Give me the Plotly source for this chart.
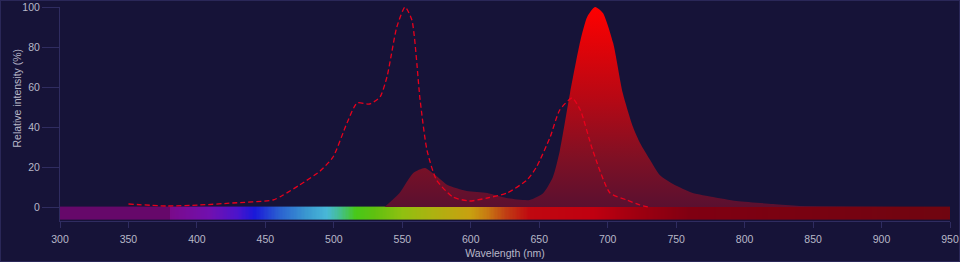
import numpy as np
import plotly.graph_objects as go

# Emission spectrum (filled)
em_nm = [537, 548, 558, 566.5, 574, 583, 597, 612, 626, 643, 653, 660, 665, 672.5, 680, 685,
         690.7, 696.5, 704, 711, 718.5, 723.6, 731, 738, 747.7, 762, 777, 794, 820.7, 840, 950]
em_val = [0, 7, 17, 19.5, 16, 11, 8, 7, 4.5, 3.5, 7, 15, 28, 57, 83, 95,
          100, 97, 82, 57, 40, 32, 23.5, 16, 11.5, 7, 5, 3, 1.5, 0.5, 0]

# Excitation spectrum (dashed)
ex_nm = [350, 378, 402, 426, 455.6, 463, 475, 490, 499.4, 509.6, 517, 526, 533.7, 538.8, 546,
         552, 557, 563, 568, 575, 587, 599, 612, 626.5, 641, 648, 658, 665, 674, 680, 689,
         701.7, 714, 723.6, 730]
ex_val = [1.5, 0.5, 1, 2, 3.5, 6, 11, 18, 25, 42, 52, 51.5, 55, 65, 90,
          100, 93.5, 53.5, 28.5, 13.5, 5, 3, 4.5, 7, 13.5, 20, 35, 48.5, 54.5, 48.5, 28.5,
          7, 3.5, 1, 0]

# Visible spectrum colour bar
spec_nm = [300, 379.5, 380, 410, 430, 442, 460, 480, 495, 506, 516, 530, 550, 575, 600, 612,
           625, 643, 690, 720, 760, 950]
spec_col = ["#66086a", "#66086a", "#7a0a8a", "#7010b0", "#4a14cc", "#1a18d8", "#2a60d0",
            "#3a98d0", "#48b8d8", "#44c080", "#48c818", "#60c010", "#90c010", "#b0b010",
            "#c8a010", "#c87a12", "#c04014", "#c00810", "#c00010", "#a00010", "#800012", "#700510"]

x_ticks = [300, 350, 400, 450, 500, 550, 600, 650, 700, 750, 800, 850, 900, 950]
y_ticks = [0, 20, 40, 60, 80, 100]

BG = "#161338"
AX = "#2f2c60"
TXT = "#b8b8c8"
FONT = "Liberation Sans, Arial, sans-serif"

fig = go.Figure()

fig.add_trace(go.Scatter(
    x=em_nm, y=em_val, mode="lines", line=dict(width=0, shape="spline", smoothing=0.6),
    fill="tozeroy",
    fillgradient=dict(type="vertical",
                      colorscale=[[0, "#5a1030"], [0.25, "#801024"], [0.55, "#b80814"], [1, "#ff0000"]]),
    hoverinfo="skip", showlegend=False))

lo, hi = spec_nm[0], spec_nm[-1]
cscale = [[(n - lo) / (hi - lo), c] for n, c in zip(spec_nm, spec_col)]
edges = np.arange(300, 951, 1)
mids = (edges[:-1] + edges[1:]) / 2
fig.add_trace(go.Heatmap(
    x=edges, y=[-6.1, 0.2], z=[mids], zmin=lo, zmax=hi, colorscale=cscale,
    showscale=False, hoverinfo="skip"))

fig.add_trace(go.Scatter(
    x=ex_nm, y=ex_val, mode="lines",
    line=dict(color="#e8001c", width=1.3, dash="5px,3px", shape="spline", smoothing=0.6),
    hoverinfo="skip", showlegend=False))

fig.update_layout(
    width=960, height=262,
    margin=dict(l=60, r=10, t=7, b=41),
    paper_bgcolor=BG, plot_bgcolor=BG,
    font=dict(family=FONT, size=10.5, color=TXT),
    showlegend=False,
    xaxis=dict(range=[300, 950], tickvals=x_ticks, showgrid=False, zeroline=False,
               showline=True, linecolor=AX, linewidth=1, ticks="outside", ticklen=6,
               tickcolor=AX, ticklabelstandoff=2, automargin=False,
               title=dict(text="Wavelength (nm)", font=dict(size=10.5, color=TXT), standoff=6)),
    yaxis=dict(range=[-7, 100], tickvals=y_ticks, showgrid=False, zeroline=False,
               showline=True, linecolor=AX, linewidth=1, ticks="outside", ticklen=17,
               tickcolor=AX, automargin=False),
    annotations=[dict(text="Relative intensity (%)", textangle=-90, x=8, xref="paper",
                      y=150, yref="paper", showarrow=False, font=dict(size=10.5, color=TXT))],
)

# convert annotation pixel positions to paper coords
pw, ph = 960 - 60 - 10, 262 - 7 - 41
fig.layout.annotations[0].x = (8 - 60) / pw
fig.layout.annotations[0].y = (221 - 150) / ph

fig.add_shape(type="rect", xref="paper", yref="paper",
              x0=-60 / pw, x1=(960 - 60) / pw, y0=-(262 - 221) / ph, y1=1 + 7 / ph,
              line=dict(color="#2a2758", width=2), layer="above")

fig.write_html("out.html")
